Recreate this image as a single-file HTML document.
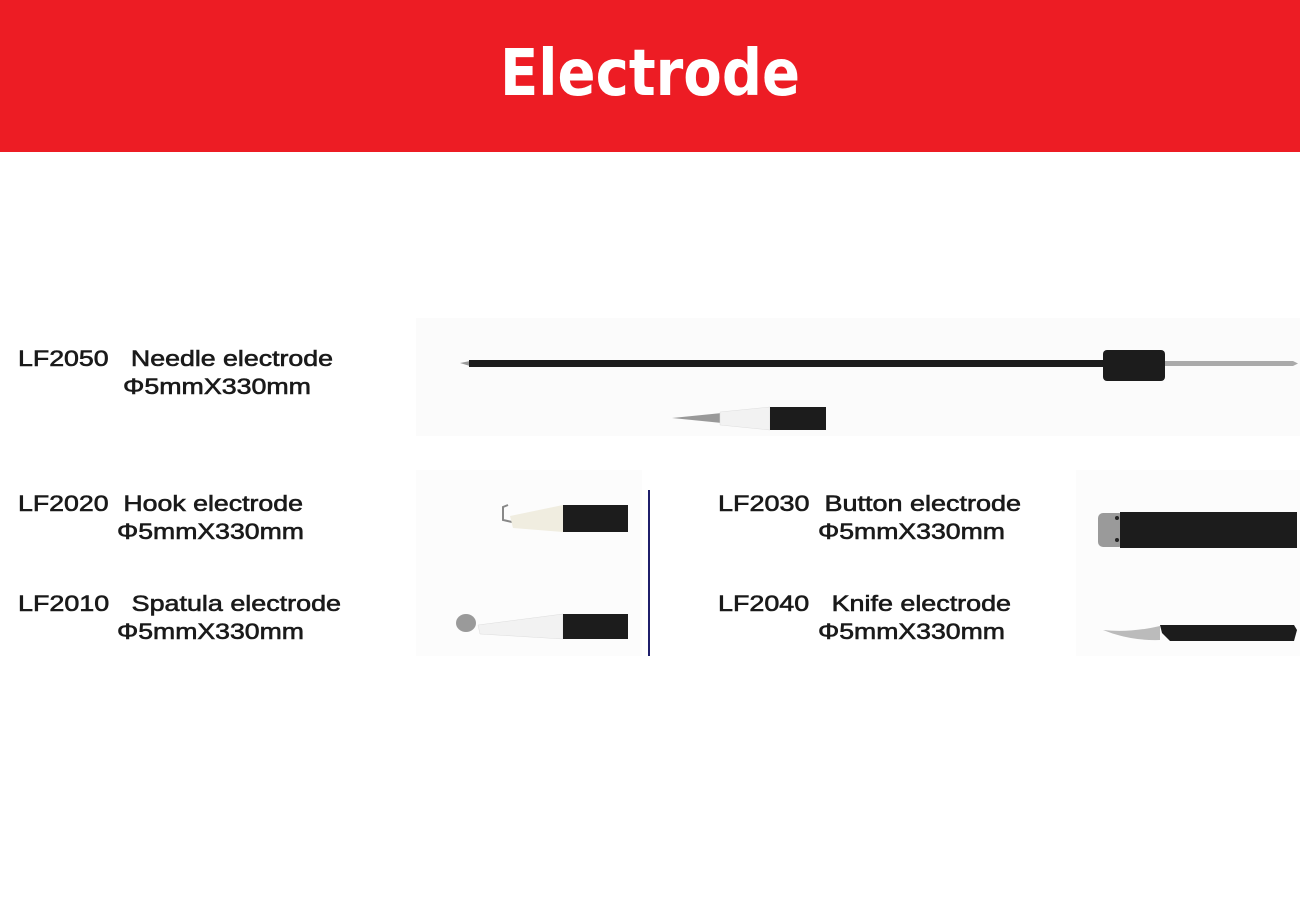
<!DOCTYPE html>
<html><head><meta charset="utf-8"><style>
html,body{margin:0;padding:0;background:#fff;}
svg{display:block;}
text{font-family:"Liberation Sans",Arial,sans-serif;white-space:pre;}
.t{font-size:22px;fill:#1a1a1a;stroke:#1a1a1a;stroke-width:0.6}
</style></head><body>
<svg width="1300" height="900" viewBox="0 0 1300 900" xmlns="http://www.w3.org/2000/svg" xml:space="preserve">
<rect x="0" y="0" width="1300" height="152" fill="#ed1c24"/>
<text x="500" y="95" font-size="64" font-weight="bold" fill="#fff" textLength="300" lengthAdjust="spacingAndGlyphs" style="font-family:'DejaVu Sans','Liberation Sans',sans-serif">Electrode</text>

<rect x="416" y="318" width="884" height="118" fill="#fbfbfb"/>
<rect x="416" y="470" width="226" height="186" fill="#fcfcfc"/>
<rect x="1076" y="470" width="224" height="186" fill="#fcfcfc"/>

<text class="t" x="18" y="366" textLength="315" lengthAdjust="spacingAndGlyphs">LF2050   Needle electrode</text>
<text class="t" x="123" y="394" textLength="188" lengthAdjust="spacingAndGlyphs">Φ5mmX330mm</text>
<text class="t" x="18" y="511" textLength="285" lengthAdjust="spacingAndGlyphs">LF2020  Hook electrode</text>
<text class="t" x="117" y="539" textLength="187" lengthAdjust="spacingAndGlyphs">Φ5mmX330mm</text>
<text class="t" x="18" y="611" textLength="323" lengthAdjust="spacingAndGlyphs">LF2010   Spatula electrode</text>
<text class="t" x="117" y="639" textLength="187" lengthAdjust="spacingAndGlyphs">Φ5mmX330mm</text>
<text class="t" x="718" y="511" textLength="303" lengthAdjust="spacingAndGlyphs">LF2030  Button electrode</text>
<text class="t" x="818" y="539" textLength="187" lengthAdjust="spacingAndGlyphs">Φ5mmX330mm</text>
<text class="t" x="718" y="611" textLength="293" lengthAdjust="spacingAndGlyphs">LF2040   Knife electrode</text>
<text class="t" x="818" y="639" textLength="187" lengthAdjust="spacingAndGlyphs">Φ5mmX330mm</text>

<polygon points="460,363 470,361 470,366" fill="#999"/>
<rect x="469" y="360" width="637" height="7" fill="#1c1c1c"/>
<rect x="1103" y="350" width="62" height="31" rx="4" fill="#1c1c1c"/>
<rect x="1165" y="361" width="128" height="5" fill="#aaa"/>
<polygon points="1293,361 1298,363.5 1293,366" fill="#aaa"/>
<polygon points="672,418 722,413 722,423" fill="#999"/>
<polygon points="720,412 770,407 770,430 720,425" fill="#f2f2f2" stroke="#ddd" stroke-width="0.5"/>
<rect x="770" y="407" width="56" height="23" fill="#1c1c1c"/>

<polyline points="508,505 503,507 503,520 512,522" fill="none" stroke="#888" stroke-width="2"/>
<polygon points="510,516 563,505 563,532 513,528" fill="#f0ede0"/>
<rect x="563" y="505" width="65" height="27" fill="#1c1c1c"/>
<ellipse cx="466" cy="623" rx="10" ry="9" fill="#9a9a9a"/>
<polygon points="478,625 563,614 563,639 480,634" fill="#f2f2f2" stroke="#ddd" stroke-width="0.5"/>
<rect x="563" y="614" width="65" height="25" fill="#1c1c1c"/>

<rect x="648" y="490" width="2" height="166" fill="#1f1f6b"/>

<rect x="1098" y="513" width="26" height="34" rx="5" fill="#9a9a9a"/>
<circle cx="1117" cy="518" r="2" fill="#222"/><circle cx="1117" cy="540" r="2" fill="#222"/>
<rect x="1120" y="512" width="177" height="36" fill="#1c1c1c"/>
<path d="M1103,630 Q1130,633 1160,626 L1160,640 Q1130,641 1103,630 Z" fill="#bbb"/>
<polygon points="1160,625 1294,625 1297,630 1294,641 1170,641 1162,633" fill="#1c1c1c"/>
</svg>
</body></html>
